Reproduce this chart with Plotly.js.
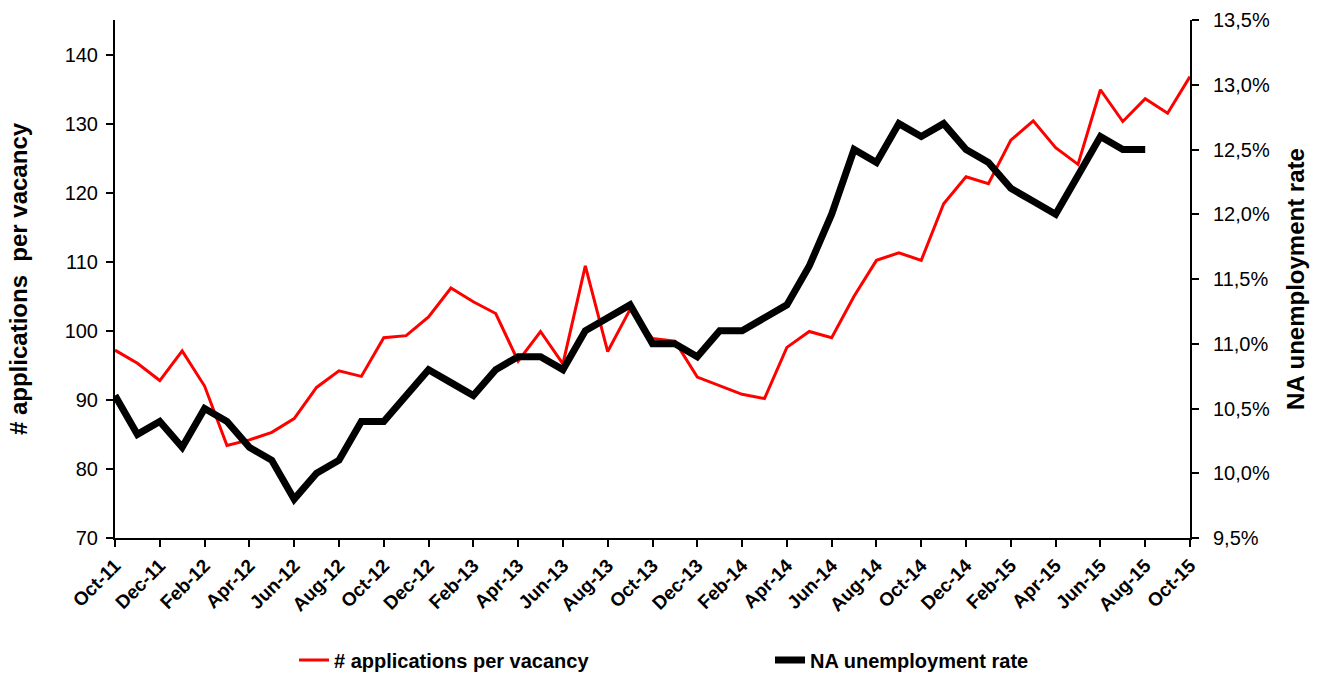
<!DOCTYPE html>
<html>
<head>
<meta charset="utf-8">
<script src="https://cdn.plot.ly/plotly-3.0.1.min.js"></script>
<style>html,body{margin:0;padding:0;background:#fff;}#chart{width:1317px;height:675px;}</style>
</head>
<body>
<div id="chart"></div>
<script>
const months = ["Oct-11","Nov-11","Dec-11","Jan-12","Feb-12","Mar-12","Apr-12","May-12","Jun-12","Jul-12","Aug-12","Sep-12",
  "Oct-12","Nov-12","Dec-12","Jan-13","Feb-13","Mar-13","Apr-13","May-13","Jun-13","Jul-13","Aug-13","Sep-13",
  "Oct-13","Nov-13","Dec-13","Jan-14","Feb-14","Mar-14","Apr-14","May-14","Jun-14","Jul-14","Aug-14","Sep-14",
  "Oct-14","Nov-14","Dec-14","Jan-15","Feb-15","Mar-15","Apr-15","May-15","Jun-15","Jul-15","Aug-15","Sep-15","Oct-15"];
const tickLabels = ["Oct-11","Dec-11","Feb-12","Apr-12","Jun-12","Aug-12","Oct-12","Dec-12","Feb-13","Apr-13","Jun-13","Aug-13",
  "Oct-13","Dec-13","Feb-14","Apr-14","Jun-14","Aug-14","Oct-14","Dec-14","Feb-15","Apr-15","Jun-15","Aug-15","Oct-15"];
const applicationsPerVacancy = [97.2,95.3,92.8,97.1,92.0,83.4,84.2,85.3,87.3,91.8,94.2,93.4,
  99.0,99.3,102.0,106.2,104.2,102.5,95.6,99.9,95.2,109.4,97.0,103.1,
  98.9,98.5,93.3,92.1,90.8,90.2,97.6,99.9,99.0,105.0,110.2,111.3,
  110.2,118.4,122.3,121.3,127.6,130.4,126.5,124.1,134.9,130.3,133.6,131.5,136.8];
const unemploymentRate = [10.6,10.3,10.4,10.2,10.5,10.4,10.2,10.1,9.8,10.0,10.1,10.4,
  10.4,10.6,10.8,10.7,10.6,10.8,10.9,10.9,10.8,11.1,11.2,11.3,
  11.0,11.0,10.9,11.1,11.1,11.2,11.3,11.6,12.0,12.5,12.4,12.7,
  12.6,12.7,12.5,12.4,12.2,12.1,12.0,12.3,12.6,12.5,12.5,null,null];
const leftTicks = [70,80,90,100,110,120,130,140];
const rightTicks = [9.5,10.0,10.5,11.0,11.5,12.0,12.5,13.0,13.5];
const rightTickLabels = ["9,5%","10,0%","10,5%","11,0%","11,5%","12,0%","12,5%","13,0%","13,5%"];

const font = "Liberation Sans, Arial, sans-serif";
const traces = [
  {x: months, y: applicationsPerVacancy, type: "scatter", mode: "lines", name: "# applications per vacancy",
   line: {color: "#ff0000", width: 3}, yaxis: "y", legend: "legend"},
  {x: months, y: unemploymentRate, type: "scatter", mode: "lines", name: "NA unemployment rate",
   line: {color: "#000000", width: 7}, yaxis: "y2", legend: "legend2", connectgaps: false}
];
const legendFont = {family: font, size: 20, color: "#000", weight: "bold"};
const tickCommon = {showline: true, linecolor: "#000", linewidth: 2, tickwidth: 2, tickcolor: "#000", showgrid: false, zeroline: false};
const layout = {
  width: 1317, height: 675,
  margin: {l: 115, r: 127, t: 20, b: 137},
  paper_bgcolor: "#fff", plot_bgcolor: "#fff",
  showlegend: true,
  font: {family: font, color: "#000"},
  xaxis: Object.assign({}, tickCommon, {
    type: "category", categoryorder: "array", categoryarray: months,
    range: [0, months.length - 1],
    tickmode: "array", tickvals: tickLabels, ticktext: tickLabels,
    tickangle: -45, tickfont: {family: font, size: 19, color: "#000", weight: "bold"},
    ticks: "outside", ticklen: 7
  }),
  yaxis: Object.assign({}, tickCommon, {
    range: [70, 145], tickmode: "array", tickvals: leftTicks,
    tickfont: {family: font, size: 20, color: "#000"},
    ticks: "outside", ticklen: 7, ticklabelstandoff: 4,
    title: {text: "# applications  per vacancy", font: {family: font, size: 24, color: "#000", weight: "bold"}, standoff: 30}
  }),
  yaxis2: Object.assign({}, tickCommon, {
    overlaying: "y", side: "right", range: [9.5, 13.5], tickmode: "array", tickvals: rightTicks, ticktext: rightTickLabels,
    tickfont: {family: font, size: 20, color: "#000"},
    ticks: "outside", ticklen: 7, ticklabelstandoff: 10,
    title: {text: "NA unemployment rate", font: {family: font, size: 24, color: "#000", weight: "bold"}, standoff: 18}
  }),
  yaxis3: Object.assign({}, tickCommon, {
    overlaying: "y", side: "left", range: [70, 145], tickmode: "array", tickvals: leftTicks,
    ticks: "inside", ticklen: 7, showticklabels: false
  }),
  yaxis4: Object.assign({}, tickCommon, {
    overlaying: "y", side: "right", range: [9.5, 13.5], tickmode: "array", tickvals: rightTicks,
    ticks: "inside", ticklen: 7, showticklabels: false
  }),
  legend: {
    orientation: "h", xref: "container", yref: "container",
    x: 294 / 1317, xanchor: "left", y: 1 - 660 / 675, yanchor: "middle",
    font: legendFont, bgcolor: "rgba(0,0,0,0)"
  },
  legend2: {
    orientation: "h", xref: "container", yref: "container",
    x: 770 / 1317, xanchor: "left", y: 1 - 660 / 675, yanchor: "middle",
    font: legendFont, bgcolor: "rgba(0,0,0,0)"
  }
};
Plotly.newPlot("chart", traces, layout, {displayModeBar: false, staticPlot: true});
</script>
</body>
</html>
